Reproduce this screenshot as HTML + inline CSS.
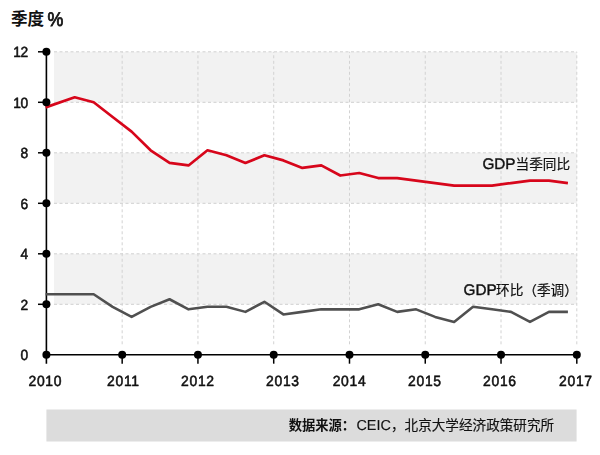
<!DOCTYPE html>
<html lang="zh-CN">
<head>
<meta charset="utf-8">
<title>季度 % GDP</title>
<style>
html,body{margin:0;padding:0;background:#fff;}
body{width:600px;height:455px;overflow:hidden;font-family:"Liberation Sans",sans-serif;}
svg{display:block;}
</style>
</head>
<body>
<svg width="600" height="455" viewBox="0 0 600 455" role="img" aria-label="季度 % GDP当季同比 GDP环比（季调） 数据来源：CEIC，北京大学经济政策研究所">
<title>季度 % — GDP当季同比 / GDP环比（季调）</title>
<rect width="600" height="455" fill="#fff"/>
<rect x="54" y="51.80" width="522.80" height="50.50" fill="#f2f2f2"/>
<rect x="54" y="152.80" width="522.80" height="50.50" fill="#f2f2f2"/>
<rect x="54" y="253.80" width="522.80" height="50.50" fill="#f2f2f2"/>
<g stroke="#d0d0d0" stroke-width="1" stroke-dasharray="3 2.5" fill="none">
<path d="M54 51.80H576.80"/>
<path d="M54 102.30H576.80"/>
<path d="M54 152.80H576.80"/>
<path d="M54 203.30H576.80"/>
<path d="M54 253.80H576.80"/>
<path d="M54 304.30H576.80"/>
</g>
<g stroke="#d2d2d2" stroke-width="1" stroke-dasharray="3 2.5" fill="none">
<path d="M122.17 344.30V51.80"/>
<path d="M197.94 344.30V51.80"/>
<path d="M273.71 344.30V51.80"/>
<path d="M349.49 344.30V51.80"/>
<path d="M425.26 344.30V51.80"/>
<path d="M501.03 344.30V51.80"/>
<path d="M576.80 344.30V51.80"/>
</g>
<g stroke="#000" stroke-width="1.6" fill="none">
<path d="M46.4 51.80V363.70"/>
<path d="M46.4 354.80H576.80"/>
</g>
<g stroke="#000" stroke-width="1.5" fill="none">
<path d="M38 51.80H46.4"/>
<path d="M38 102.30H46.4"/>
<path d="M38 152.80H46.4"/>
<path d="M38 203.30H46.4"/>
<path d="M38 253.80H46.4"/>
<path d="M38 304.30H46.4"/>
<path d="M122.17 354.80V363.70"/>
<path d="M197.94 354.80V363.70"/>
<path d="M273.71 354.80V363.70"/>
<path d="M349.49 354.80V363.70"/>
<path d="M425.26 354.80V363.70"/>
<path d="M501.03 354.80V363.70"/>
<path d="M576.80 354.80V363.70"/>
</g>
<polyline points="45.60,294.20 74.70,294.20 93.67,294.20 112.64,306.83 131.61,316.93 150.58,306.83 169.55,299.25 188.52,309.35 207.49,306.83 226.46,306.83 245.43,311.88 264.40,301.77 283.37,314.40 302.34,311.88 321.31,309.35 340.28,309.35 359.25,309.35 378.22,304.30 397.19,311.88 416.16,309.35 435.13,316.93 454.10,321.98 473.07,306.83 492.04,309.35 511.01,311.88 529.98,321.98 548.95,311.88 567.92,311.88" fill="none" stroke="#505050" stroke-width="2.55" stroke-linejoin="round" stroke-linecap="butt"/>
<polyline points="45.60,107.35 74.70,97.25 93.67,102.30 112.64,116.95 131.61,131.59 150.58,150.28 169.55,162.90 188.52,165.43 207.49,150.28 226.46,155.32 245.43,162.90 264.40,155.32 283.37,160.38 302.34,167.95 321.31,165.43 340.28,175.53 359.25,173.00 378.22,178.05 397.19,178.05 416.16,180.57 435.13,183.10 454.10,185.62 473.07,185.62 492.04,185.62 511.01,183.10 529.98,180.57 548.95,180.57 567.92,183.10" fill="none" stroke="#d7061b" stroke-width="2.7" stroke-linejoin="round" stroke-linecap="butt"/>
<g fill="#000">
<circle cx="46.4" cy="51.80" r="4"/>
<circle cx="46.4" cy="102.30" r="4"/>
<circle cx="46.4" cy="152.80" r="4"/>
<circle cx="46.4" cy="203.30" r="4"/>
<circle cx="46.4" cy="253.80" r="4"/>
<circle cx="46.4" cy="304.30" r="4"/>
<circle cx="46.4" cy="354.80" r="4"/>
<circle cx="122.17" cy="354.80" r="4"/>
<circle cx="197.94" cy="354.80" r="4"/>
<circle cx="273.71" cy="354.80" r="4"/>
<circle cx="349.49" cy="354.80" r="4"/>
<circle cx="425.26" cy="354.80" r="4"/>
<circle cx="501.03" cy="354.80" r="4"/>
<circle cx="576.80" cy="354.80" r="4"/>
</g>
<g font-family="'Liberation Sans', sans-serif" font-size="14.8" fill="#111" stroke="#111" stroke-width="0.55" stroke-linejoin="round" style="will-change:transform;text-rendering:geometricPrecision">
<text transform="translate(27.7 57.35) scale(0.93 1)" text-anchor="end" letter-spacing="-0.5">12</text>
<text transform="translate(27.7 107.85) scale(0.93 1)" text-anchor="end" letter-spacing="-0.5">10</text>
<text transform="translate(27.7 158.35) scale(0.93 1)" text-anchor="end" letter-spacing="-0.5">8</text>
<text transform="translate(27.7 208.85) scale(0.93 1)" text-anchor="end" letter-spacing="-0.5">6</text>
<text transform="translate(27.7 259.35) scale(0.93 1)" text-anchor="end" letter-spacing="-0.5">4</text>
<text transform="translate(27.7 309.85) scale(0.93 1)" text-anchor="end" letter-spacing="-0.5">2</text>
<text transform="translate(27.7 360.35) scale(0.93 1)" text-anchor="end" letter-spacing="-0.5">0</text>
<text transform="translate(28.45 385.90) scale(0.94 1)" letter-spacing="0.75">2010</text>
<text transform="translate(107.05 386.40) scale(0.94 1)" letter-spacing="0.75">2011</text>
<text transform="translate(181.05 386.40) scale(0.94 1)" letter-spacing="0.75">2012</text>
<text transform="translate(266.05 386.40) scale(0.94 1)" letter-spacing="0.75">2013</text>
<text transform="translate(332.65 386.40) scale(0.94 1)" letter-spacing="0.75">2014</text>
<text transform="translate(408.05 386.40) scale(0.94 1)" letter-spacing="0.75">2015</text>
<text transform="translate(483.05 385.80) scale(0.94 1)" letter-spacing="0.75">2016</text>
<text transform="translate(559.05 385.80) scale(0.94 1)" letter-spacing="0.75">2017</text>
</g>
<text x="10.9" y="25" font-family="'Liberation Sans', 'Noto Sans CJK SC', sans-serif" font-size="16.6" font-weight="bold" fill="#111">季度</text>
<text transform="translate(47.6 26.3) scale(0.9 1)" font-family="'Liberation Sans', sans-serif" font-size="19.8" fill="#111" stroke="#111" stroke-width="0.8" style="will-change:transform;text-rendering:geometricPrecision">%</text>
<text x="482.40" y="168.50" font-family="'Liberation Sans', sans-serif" font-size="15.3" fill="#111" stroke="#111" stroke-width="0.4" style="will-change:transform;text-rendering:geometricPrecision">GDP</text>
<text x="515.5" y="168.5" font-family="'Liberation Sans', 'Noto Sans CJK SC', sans-serif" font-size="13.65" fill="#111" stroke="#111" stroke-width="0.2">当季同比</text>
<text x="463.50" y="294.70" font-family="'Liberation Sans', sans-serif" font-size="15.3" fill="#111" stroke="#111" stroke-width="0.4" style="will-change:transform;text-rendering:geometricPrecision">GDP</text>
<text x="496" y="294.7" font-family="'Liberation Sans', 'Noto Sans CJK SC', sans-serif" font-size="13.65" fill="#111" stroke="#111" stroke-width="0.2">环比（季调）</text>
<rect x="46.4" y="409.5" width="530.20" height="32" fill="#dcdcdc"/>
<text x="288.7" y="430.4" font-family="'Liberation Sans', 'Noto Sans CJK SC', sans-serif" font-size="13.3" font-weight="bold" fill="#111">数据来源：</text>
<text x="356.48" y="430.20" font-family="'Liberation Sans', sans-serif" font-size="14.4" fill="#111" stroke="#111" stroke-width="0.15" style="will-change:transform;text-rendering:geometricPrecision">CEIC</text>
<text x="391" y="430.4" font-family="'Liberation Sans', 'Noto Sans CJK SC', sans-serif" font-size="13.6" fill="#111" stroke="#111" stroke-width="0.15">，北京大学经济政策研究所</text>
</svg>
</body>
</html>
